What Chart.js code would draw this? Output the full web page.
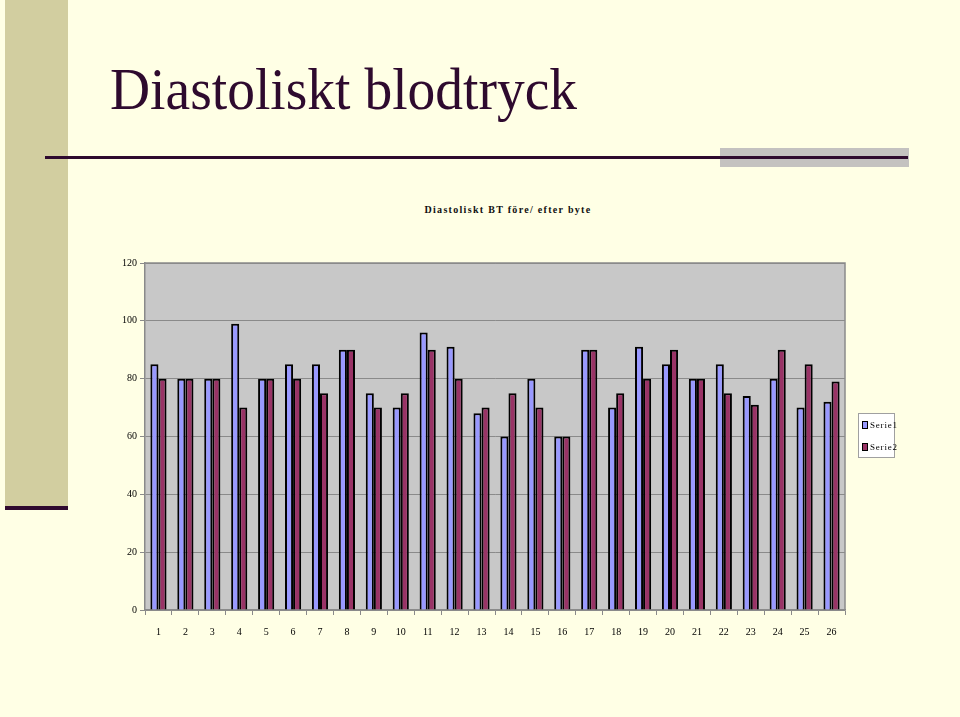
<!DOCTYPE html>
<html>
<head>
<meta charset="utf-8">
<script src="https://cdn.jsdelivr.net/npm/chart.js@4.4.1/dist/chart.umd.min.js"></script>
<style>
  html, body { margin: 0; padding: 0; }
  body { width: 960px; height: 717px; background: #ffffe5; position: relative; overflow: hidden; }
  .strip { position: absolute; left: 5px; top: 0; width: 63px; height: 506px; background: #d2cea0; }
  .strip-line { position: absolute; left: 5px; top: 506px; width: 63px; height: 4px; background: #300a30; }
  h1 { position: absolute; left: 110px; top: 60px; margin: 0; font: 55.5px "Liberation Serif", serif; color: #2e0a2e; font-weight: normal; line-height: 1; transform: scaleY(1.06); transform-origin: left top; }
  .rule-grey { position: absolute; left: 720px; top: 148px; width: 189px; height: 19px; background: #c4c2c0; }
  .rule { position: absolute; left: 45px; top: 156px; width: 863px; height: 3px; background: #2e0a2e; }
  .ctitle { position: absolute; left: 0; width: 1016px; top: 204px; text-align: center; font: bold 10px "Liberation Serif", serif; letter-spacing: 1.3px; color: #111; }
  #wrap { position: absolute; left: 100px; top: 250px; width: 760px; height: 400px; }
  .legend { position: absolute; left: 858px; top: 413px; width: 37px; height: 45px; background: #fff; border: 1px solid #a0a0a0; box-sizing: border-box; font: 9px "Liberation Serif", serif; letter-spacing: 0.8px; }
  .legend div { position: absolute; left: 3px; white-space: nowrap; }
  .legend span { display: inline-block; width: 4px; height: 6px; border: 1px solid #000; margin-right: 2px; vertical-align: -1px; }
</style>
</head>
<body>
<div class="strip"></div>
<div class="strip-line"></div>
<h1>Diastoliskt blodtryck</h1>
<div class="rule-grey"></div>
<div class="rule"></div>
<div class="ctitle">Diastoliskt BT före/ efter byte</div>
<div id="wrap"><canvas id="chart"></canvas></div>
<div class="legend">
  <div style="top:6px"><span style="background:#9999ff"></span>Serie1</div>
  <div style="top:28px"><span style="background:#993366"></span>Serie2</div>
</div>
<script>
// DADOS //
const categories = ['1','2','3','4','5','6','7','8','9','10','11','12','13','14','15','16','17','18','19','20','21','22','23','24','25','26']
const serie1 = [85, 80, 80, 99, 80, 85, 85, 90, 75, 70, 96, 91, 68, 60, 80, 60, 90, 70, 91, 85, 80, 85, 74, 80, 70, 72]
const serie2 = [80, 80, 80, 70, 80, 80, 75, 90, 70, 75, 90, 80, 70, 75, 70, 60, 90, 75, 80, 90, 80, 75, 71, 90, 85, 79]
const yTicks = [0, 20, 40, 60, 80, 100, 120]

// FUNDO CINZA DA ÁREA DO GRÁFICO //
const plotBackground = {
  id: 'plotBackground',
  beforeDraw(chart) {
    const { ctx, chartArea: a } = chart
    ctx.save()
    ctx.fillStyle = '#c8c8c8'
    ctx.fillRect(a.left, a.top, a.right - a.left, a.bottom - a.top)
    ctx.restore()
  },
  afterDatasetsDraw(chart) {
    const { ctx, chartArea: a } = chart
    ctx.save()
    ctx.strokeStyle = '#8a8a8a'
    ctx.lineWidth = 1.5
    ctx.beginPath()
    ctx.moveTo(a.left, a.top)
    ctx.lineTo(a.right, a.top)
    ctx.lineTo(a.right, a.bottom)
    ctx.stroke()
    ctx.restore()
  }
}

const tickFont = { family: '"Liberation Serif", serif', size: 10 }

new Chart(document.getElementById('chart'), {
  type: 'bar',
  data: {
    labels: categories,
    datasets: [{
      label: 'Serie1',
      data: serie1,
      backgroundColor: '#9999ff',
      borderColor: '#000000',
      borderWidth: 2
    }, {
      label: 'Serie2',
      data: serie2,
      backgroundColor: '#993366',
      borderColor: '#000000',
      borderWidth: 2
    }]
  },
  options: {
    responsive: true,
    maintainAspectRatio: false,
    animation: false,
    layout: { padding: { top: 13, right: 15, left: 0, bottom: 0 } },
    datasets: { bar: { categoryPercentage: 0.6, barPercentage: 1.0 } },
    scales: {
      x: {
        grid: { display: true, drawOnChartArea: false, drawTicks: true, tickLength: 5, color: '#8a8a8a', offset: true },
        border: { display: true, color: '#8a8a8a', width: 1.5 },
        ticks: { color: '#000', font: tickFont, padding: 11, maxRotation: 0, autoSkip: false },
        afterFit(scale) { scale.height = 40 }
      },
      y: {
        min: 0,
        max: 120,
        afterBuildTicks(scale) { scale.ticks = yTicks.map(v => ({ value: v })) },
        grid: { color: '#8a8a8a', tickLength: 5, lineWidth: 1 },
        border: { display: true, color: '#8a8a8a', width: 1.5 },
        ticks: { color: '#000', font: tickFont, padding: 3 },
        afterFit(scale) { scale.width = 45 }
      }
    },
    plugins: {
      legend: { display: false },
      tooltip: { enabled: false }
    }
  },
  plugins: [plotBackground]
})
</script>
</body>
</html>
